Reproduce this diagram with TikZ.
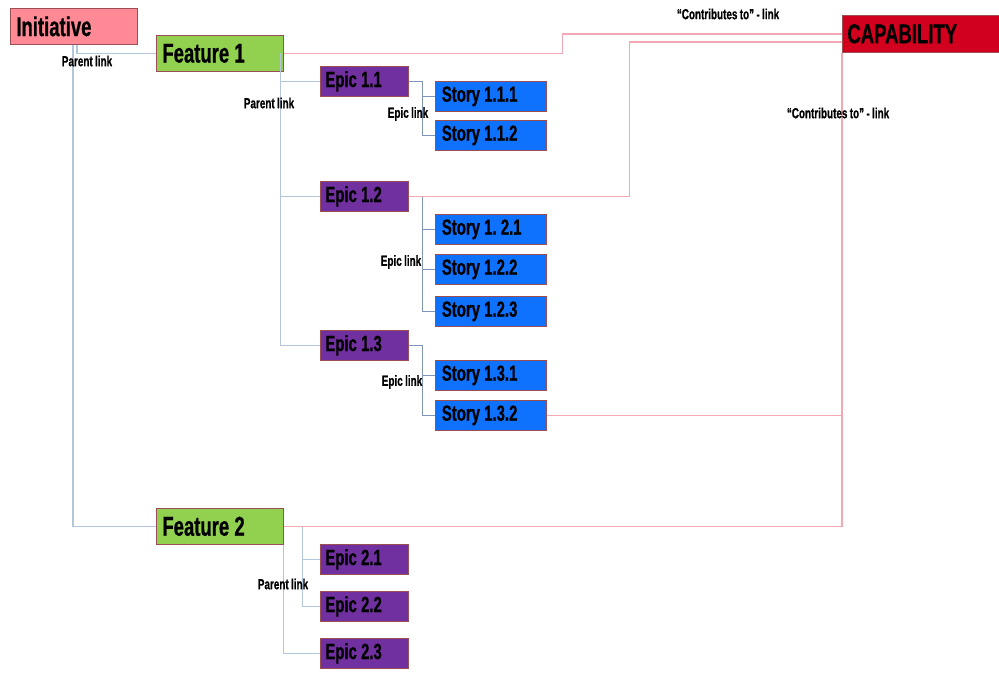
\documentclass[tikz,border=0pt]{standalone}
\usepackage{fontspec}
\newfontfamily\condfont[FakeStretch=0.68, WordSpace=0.85, FakeBold=0.6]{Liberation Sans}
\usetikzlibrary{positioning, calc}
\definecolor{initpink}{HTML}{FF8A96}
\definecolor{featgreen}{HTML}{92D050}
\definecolor{epicpurple}{HTML}{7030A0}
\definecolor{storyblue}{HTML}{0F72FF}
\definecolor{capred}{HTML}{D2001E}
\definecolor{boxedge}{HTML}{9B4F55}
\definecolor{parentblue}{HTML}{B4C6DC}
\definecolor{epicblue}{HTML}{7F96B8}
\definecolor{contribpink}{HTML}{F2A9B3}
\newcommand{\px}{0.02cm}

\begin{document}
\begin{tikzpicture}[x=0.02cm, y=-0.02cm,
	every node/.append style={font={\condfont\bfseries}},
	box/.style={draw=boxedge, anchor=north west, inner xsep=0pt, inner ysep=0pt, align=left,
		execute at begin node={\frenchspacing\spaceskip=0.19em\xspaceskip=0.19em\relax}},
	bigbox/.style={box, minimum width=127*\px, minimum height=36*\px, text width=(127-12)*\px, font={\condfont\bfseries\fontsize{15.5}{17}\selectfont}},
	initbox/.style={bigbox, fill=initpink},
	featbox/.style={bigbox, fill=featgreen},
	capbox/.style={box, fill=capred, minimum width=157*\px, minimum height=37*\px, text width=(157-10)*\px, font={\condfont\bfseries\fontsize{15.5}{17}\selectfont}},
	epicbox/.style={box, fill=epicpurple, minimum width=88*\px, minimum height=30*\px, text width=(88-10)*\px, font={\condfont\bfseries\fontsize{12.5}{14}\selectfont}},
	storybox/.style={box, fill=storyblue, minimum width=111*\px, minimum height=30*\px, text width=(111-13)*\px, font={\condfont\bfseries\fontsize{12.5}{14}\selectfont}},
	linklabel/.style={font={\condfont\bfseries\fontsize{8.3}{9}\selectfont}, inner sep=0pt},
	parentlink/.style={draw=parentblue, line width=0.8pt},
	epiclink/.style={draw=epicblue, line width=0.8pt},
	contrib/.style={draw=contribpink, line width=0.8pt}]

	\useasboundingbox (0,0) rectangle (999,678);

	% boxes
	\node[initbox] (init) at (10,8) {Initiative};
	\node[featbox] (feat1) at (156,35) {Feature 1};
	\node[featbox] (feat2) at (156,508) {Feature 2};
	\node[capbox] (cap) at (842,15) {CAPABILITY};

	\node[epicbox] (e11) at (320,66) {Epic 1.1};
	\node[epicbox] (e12) at (320,181) {Epic 1.2};
	\node[epicbox] (e13) at (320,330) {Epic 1.3};
	\node[epicbox] (e21) at (320,544) {Epic 2.1};
	\node[epicbox] (e22) at (320,591) {Epic 2.2};
	\node[epicbox] (e23) at (320,638) {Epic 2.3};

	\node[storybox] (s111) at (435,81) {Story 1.1.1};
	\node[storybox] (s112) at (435,120) {Story 1.1.2};
	\node[storybox] (s121) at (435,214) {Story 1. 2.1};
	\node[storybox] (s122) at (435,254) {Story 1.2.2};
	\node[storybox] (s123) at (435,296) {Story 1.2.3};
	\node[storybox] (s131) at (435,360) {Story 1.3.1};
	\node[storybox] (s132) at (435,400) {Story 1.3.2};

	% parent links
	\draw[parentlink] (init.south west) ++(67,0) |- (feat1.west);
	\draw[parentlink] (init.south west) ++(63,0) |- (feat2.west);
	\draw[parentlink] ([xshift=-0.06cm]feat1.east) |- (e11.west);
	\draw[parentlink] ([xshift=-0.06cm]feat1.east) |- (e12.west);
	\draw[parentlink] ([xshift=-0.06cm]feat1.east) |- (e13.west);
	\draw[parentlink] (feat2.east) -- ++(19,0) |- (e21.west);
	\draw[parentlink] (feat2.east) -- ++(19,0) |- (e22.west);
	\draw[parentlink] (feat2.south east) |- (e23.west);

	% epic links
	\foreach \e/\s in {e11/s111, e11/s112, e12/s121, e12/s122, e12/s123, e13/s131, e13/s132}
		\draw[epiclink] (\e.east) -- ++(14,0) |- (\s.west);

	% contributes to
	\draw[contrib] (feat1.east) -- ++(279,0) |- (cap.west);
	\draw[contrib] (e12.east) -- ++(221,0) |- ([yshift=-0.16cm]cap.west);
	\draw[contrib] (feat2.east) -| (cap.south west);
	\draw[contrib] (s132.east) -- (s132.east -| cap.south west);

	% labels
	\node[linklabel] (pl1) at (87,61) {Parent link};
	\node[linklabel] (pl2) at (269,103) {Parent link};
	\node[linklabel] (pl3) at (283,584) {Parent link};
	\node[linklabel] (el1) at (408,114) {Epic link};
	\node[linklabel] (el2) at (401,262) {Epic link};
	\node[linklabel] (el3) at (402,382) {Epic link};
	\node[linklabel] (cl1) at (728,14) {“Contributes to” - link};
	\node[linklabel] (cl2) at (838,113) {“Contributes to” - link};
\end{tikzpicture}
\end{document}
